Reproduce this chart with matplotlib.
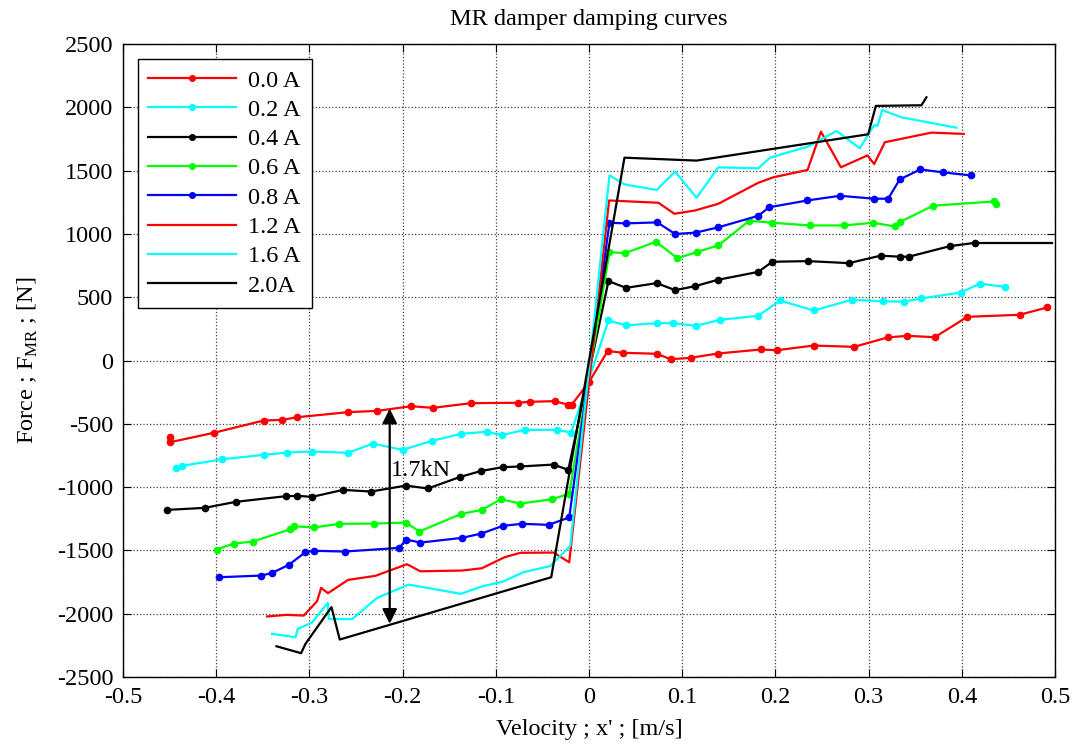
import matplotlib
matplotlib.use("Agg")
import matplotlib.pyplot as plt

plt.rcParams['font.family'] = ['Liberation Serif', 'DejaVu Serif']
plt.rcParams['mathtext.fontset'] = 'custom'
plt.rcParams['mathtext.rm'] = 'Liberation Serif'
plt.rcParams['axes.unicode_minus'] = False

# --- data: velocity [m/s], force [N] ---
v_00 = [-0.449, -0.449, -0.4025, -0.349, -0.329, -0.313, -0.2585, -0.2274, -0.1906, -0.1677,
        -0.1263, -0.0766, -0.0638, -0.0367, -0.022, -0.0184, 0.0, 0.0201, 0.0362, 0.0727,
        0.0877, 0.109, 0.138, 0.1846, 0.2013, 0.241, 0.2846, 0.3204, 0.3414, 0.371,
        0.406, 0.462, 0.4917]
f_00 = [-606, -645, -571, -474, -469, -448, -408, -398, -361, -374,
        -337, -334, -326, -321, -350, -348, -170, 75, 61, 53,
        10, 21, 55, 87, 81, 118, 108, 182, 195, 184,
        345, 361, 419]

v_02 = [-0.4435, -0.4364, -0.3936, -0.3486, -0.3239, -0.2971, -0.2585, -0.232, -0.1999, -0.1685,
        -0.1374, -0.1095, -0.0935, -0.0691, -0.0338, -0.0191, 0.0209, 0.0398, 0.0727, 0.0906,
        0.1145, 0.1406, 0.1817, 0.2049, 0.241, 0.2817, 0.3157, 0.3378, 0.3567, 0.3989,
        0.4193, 0.446]
f_02 = [-848, -832, -780, -745, -727, -719, -729, -656, -706, -635,
        -579, -563, -590, -548, -548, -569, 316, 277, 295, 295,
        274, 321, 354, 474, 395, 479, 468, 465, 490, 537,
        607, 582]

v_04 = [-0.4525, -0.4124, -0.3786, -0.3256, -0.3132, -0.2971, -0.2639, -0.2339, -0.1963, -0.1728,
        -0.138, -0.1155, -0.0927, -0.0737, -0.038, -0.0222, 0.0209, 0.0398, 0.0727, 0.0924,
        0.1138, 0.138, 0.1817, 0.1967, 0.2353, 0.2789, 0.3128, 0.3336, 0.3432, 0.3871,
        0.4146]
f_04 = [-1180, -1164, -1116, -1072, -1069, -1077, -1022, -1035, -988, -1011,
        -919, -872, -843, -837, -822, -864, 627, 574, 611, 556,
        587, 637, 700, 780, 785, 769, 828, 820, 820, 903,
        930]
v_04_tail = [0.4146, 0.4968]
f_04_tail = [930, 930]

v_06 = [-0.3996, -0.381, -0.3607, -0.3203, -0.316, -0.2953, -0.2677, -0.231, -0.1963, -0.182,
        -0.137, -0.1149, -0.0945, -0.0737, -0.0399, -0.0212, 0.022, 0.0388, 0.072, 0.0949,
        0.1155, 0.1388, 0.172, 0.1959, 0.2371, 0.2735, 0.3049, 0.3282, 0.3342, 0.3692,
        0.4343, 0.4371]
f_06 = [-1493, -1446, -1430, -1333, -1309, -1319, -1290, -1288, -1280, -1351,
        -1211, -1180, -1096, -1130, -1096, -1053, 856, 848, 938, 808,
        856, 909, 1104, 1088, 1067, 1067, 1088, 1059, 1096, 1223,
        1256, 1233]

v_08 = [-0.3971, -0.3524, -0.3406, -0.3221, -0.3042, -0.2953, -0.2621, -0.2034, -0.1963, -0.1809,
        -0.1363, -0.1155, -0.0924, -0.072, -0.0434, -0.0212, 0.022, 0.0395, 0.0734, 0.0924,
        0.1145, 0.1388, 0.1817, 0.1931, 0.2342, 0.2692, 0.306, 0.321, 0.3335, 0.3556,
        0.38, 0.4096]
f_08 = [-1712, -1699, -1680, -1614, -1514, -1503, -1509, -1480, -1414, -1438,
        -1401, -1367, -1306, -1290, -1298, -1240, 1088, 1083, 1091, 999,
        1010, 1052, 1143, 1210, 1264, 1301, 1278, 1278, 1431, 1509,
        1486, 1462]

v_12 = [-0.3453, -0.3239, -0.306, -0.2917, -0.2874, -0.28, -0.2585, -0.2292, -0.1953, -0.1809,
        -0.1363, -0.1149, -0.0906, -0.0737, -0.038, -0.0212, 0.0216, 0.0745, 0.0916, 0.1138,
        0.1388, 0.1817, 0.1978, 0.2345, 0.2489, 0.2703, 0.2988, 0.306, 0.3175, 0.3674,
        0.4021]
f_12 = [-2022, -2009, -2015, -1901, -1796, -1838, -1733, -1701, -1609, -1665,
        -1659, -1641, -1554, -1519, -1517, -1594, 1264, 1246, 1159, 1185,
        1238, 1404, 1447, 1505, 1808, 1526, 1620, 1552, 1724, 1800,
        1790]

v_16 = [-0.34, -0.3149, -0.3124, -0.2971, -0.2803, -0.2792, -0.2542, -0.2274, -0.1935, -0.1374,
        -0.1141, -0.0924, -0.0702, -0.0416, -0.0201, 0.022, 0.0381, 0.0727, 0.0924, 0.1155,
        0.1388, 0.1817, 0.1942, 0.2353, 0.2656, 0.2906, 0.306, 0.3096, 0.3146, 0.3353,
        0.3942]
f_16 = [-2159, -2186, -2119, -2070, -1914, -2041, -2044, -1875, -1770, -1843,
        -1783, -1747, -1672, -1624, -1465, 1462, 1391, 1347, 1492, 1286,
        1526, 1518, 1602, 1691, 1813, 1676, 1860, 1853, 1978, 1921,
        1839]

v_20 = [-0.3353, -0.3089, -0.3042, -0.2763, -0.2674, -0.0405, 0.0381, 0.1155, 0.2996, 0.3078,
        0.3567, 0.3621]
f_20 = [-2257, -2312, -2238, -1948, -2204, -1712, 1602, 1579, 1787, 2011,
        2016, 2079]

xticks = [-0.5, -0.4, -0.3, -0.2, -0.1, 0, 0.1, 0.2, 0.3, 0.4, 0.5]
xticklabels = ['-0.5', '-0.4', '-0.3', '-0.2', '-0.1', '0', '0.1', '0.2', '0.3', '0.4', '0.5']
yticks = [-2500, -2000, -1500, -1000, -500, 0, 500, 1000, 1500, 2000, 2500]

arrow_v = -0.2138
arrow_top, arrow_bottom = -380, -2080

FS = 17.5


def main():
    fig = plt.figure(figsize=(10.73, 7.47), dpi=100)
    ax = fig.add_axes([0.1146, 0.0937, 0.8686, 0.8474])

    lw = 1.6
    ms = 4.5
    ax.plot(v_00, f_00, color=(1, 0, 0), lw=lw, marker='o', ms=ms, label='0.0 A')
    ax.plot(v_02, f_02, color=(0, 1, 1), lw=lw, marker='o', ms=ms, label='0.2 A')
    ax.plot(v_04, f_04, color='k', lw=lw, marker='o', ms=ms, label='0.4 A')
    ax.plot(v_04_tail, f_04_tail, color='k', lw=lw)
    ax.plot(v_06, f_06, color=(0, 1, 0), lw=lw, marker='o', ms=ms, label='0.6 A')
    ax.plot(v_08, f_08, color=(0, 0, 1), lw=lw, marker='o', ms=ms, label='0.8 A')
    ax.plot(v_12, f_12, color=(1, 0, 0), lw=lw, label='1.2 A')
    ax.plot(v_16, f_16, color=(0, 1, 1), lw=lw, label='1.6 A')
    ax.plot(v_20, f_20, color='k', lw=lw, label='2.0A')

    ax.annotate('', xy=(arrow_v, arrow_bottom), xytext=(arrow_v, arrow_top),
                arrowprops=dict(arrowstyle='<|-|>', color='k', lw=1.6, mutation_scale=22,
                                shrinkA=0, shrinkB=0))
    ax.text(arrow_v + 0.001, -870, '1.7kN', fontsize=FS, ha='left', va='center')

    ax.set_xlim(-0.5, 0.5)
    ax.set_ylim(-2500, 2500)
    ax.set_xticks(xticks)
    ax.set_xticklabels(xticklabels)
    ax.set_yticks(yticks)
    ax.tick_params(direction='in', top=True, right=True, labelsize=FS, length=6, width=0.8, pad=7)
    ax.grid(True, linestyle=':', color='0.25', lw=0.9)
    for s in ax.spines.values():
        s.set_linewidth(1.0)

    ax.set_title('MR damper damping curves', fontsize=FS, pad=14)
    ax.set_xlabel("Velocity ; x' ; [m/s]", fontsize=FS, labelpad=8)
    ax.set_ylabel(r'Force ; F$_{\mathrm{MR}}$ ; [N]', fontsize=FS, labelpad=12)

    leg = ax.legend(loc='upper left', fontsize=FS, handlelength=3.6, labelspacing=0.3,
                    borderaxespad=0.6, fancybox=False, framealpha=1, edgecolor='k',
                    markerscale=0.9, handletextpad=0.5, borderpad=0.45)
    leg.get_frame().set_linewidth(1.0)

    fig.savefig('out.png', dpi=100)


if __name__ == "__main__":
    main()
